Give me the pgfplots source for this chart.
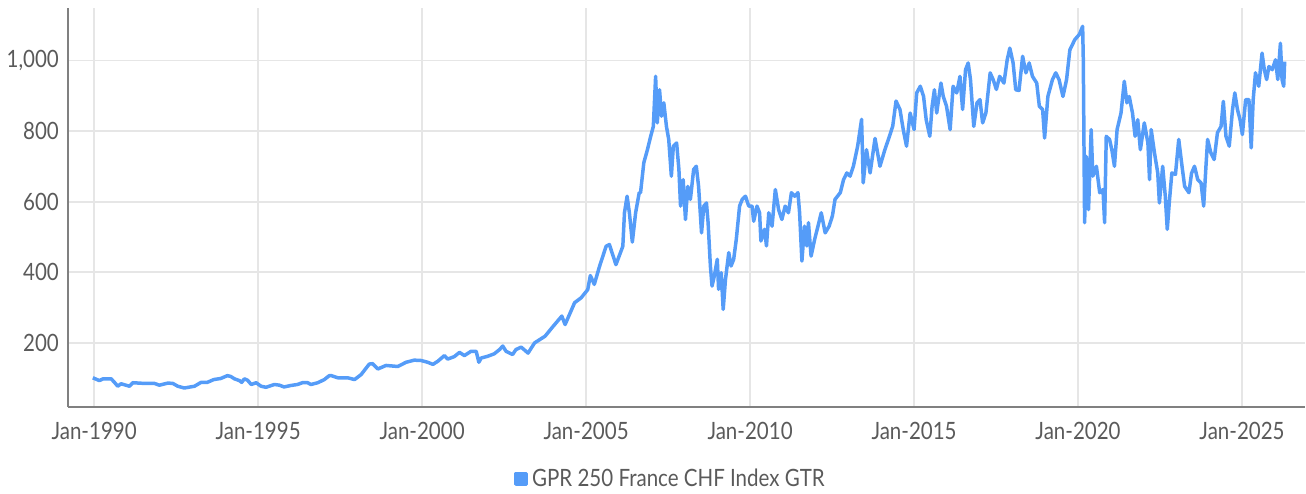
\documentclass[border=0pt]{standalone}
\usepackage{fontspec}
\setmainfont[FakeStretch=0.86]{Lato}
\usepackage{pgfplots}
\pgfplotsset{compat=1.18}
\definecolor{lineblue}{HTML}{559CF8}
\definecolor{gridgray}{HTML}{E6E6E6}
\definecolor{axisgray}{HTML}{808080}
\definecolor{textgray}{HTML}{5A5A5A}
\begin{document}
\begin{tikzpicture}
\begin{axis}[
  scale only axis,
  width=620bp, height=200bp,
  xmin=1989.2, xmax=2026.92,
  ymin=17, ymax=1149,
  axis x line=bottom, axis y line=left,
  axis line style={-, draw=axisgray, line width=1bp},
  xtick={1990,1995,2000,2005,2010,2015,2020,2025},
  xticklabels={Jan-1990,Jan-1995,Jan-2000,Jan-2005,Jan-2010,Jan-2015,Jan-2020,Jan-2025},
  ytick={200,400,600,800,1000},
  grid=major,
  major grid style={draw=gridgray, line width=1bp},
  major tick length=0pt,
  tick style={draw=none},
  /pgf/number format/assume math mode=true,
  /pgf/number format/1000 sep={,},
  ticklabel style={font=\fontsize{12}{14}\selectfont, text=textgray},
  yticklabel style={xshift=-1bp},
  xticklabel style={yshift=-4bp},
  legend style={at={(0.3605,0)}, anchor=west, yshift=-36bp, draw=none, fill=none,
    font=\fontsize{12}{14}\selectfont, text=textgray, inner sep=0pt,
    /tikz/every even column/.append style={column sep=0pt}},
  legend image code/.code={\fill[lineblue] (0bp,-2.7bp) rectangle (5.2bp,2.7bp);},
  legend cell align=left,
  clip=true,
]
\addplot[lineblue, line width=1.75bp, line join=round] table[row sep=\\] {
x y\\
1989.96 100\\ 1990.16 92\\ 1990.27 97\\ 1990.52 97\\ 1990.62 87\\ 1990.72 76\\ 1990.82 83\\
1991.08 76\\ 1991.18 86\\ 1991.53 84\\ 1991.84 84\\ 1991.99 79\\ 1992.25 85\\ 1992.40 84\\
1992.55 76\\ 1992.75 71\\ 1993.06 76\\ 1993.26 87\\ 1993.45 87\\ 1993.65 95\\ 1993.86 98\\
1994.06 106\\ 1994.16 104\\ 1994.28 97\\ 1994.43 92\\ 1994.50 87\\ 1994.58 97\\ 1994.68 93\\
1994.79 81\\ 1994.94 86\\ 1995.09 76\\ 1995.24 73\\ 1995.50 81\\ 1995.65 79\\ 1995.79 74\\
1995.99 78\\ 1996.20 81\\ 1996.35 86\\ 1996.51 86\\ 1996.61 81\\ 1996.82 86\\ 1997.02 95\\
1997.17 106\\ 1997.23 106\\ 1997.43 100\\ 1997.73 100\\ 1997.94 95\\ 1998.14 109\\ 1998.39 139\\
1998.49 140\\ 1998.65 125\\ 1998.90 135\\ 1999.26 132\\ 1999.51 144\\ 1999.76 150\\ 1999.97 149\\
2000.17 144\\ 2000.33 138\\ 2000.48 147\\ 2000.68 163\\ 2000.78 153\\ 2000.98 160\\ 2001.14 172\\
2001.29 163\\ 2001.49 175\\ 2001.65 175\\ 2001.73 144\\ 2001.80 156\\ 2002.00 161\\ 2002.20 168\\
2002.36 180\\ 2002.46 190\\ 2002.56 175\\ 2002.76 166\\ 2002.86 180\\ 2003.02 187\\ 2003.23 170\\
2003.43 199\\ 2003.75 218\\ 2003.96 242\\ 2004.26 275\\ 2004.36 251\\ 2004.65 313\\ 2004.85 327\\
2005.05 350\\ 2005.13 390\\ 2005.25 365\\ 2005.41 416\\ 2005.61 473\\ 2005.71 478\\ 2005.91 421\\
2006.12 473\\ 2006.17 568\\ 2006.25 615\\ 2006.32 568\\ 2006.41 485\\ 2006.51 568\\ 2006.62 625\\
2006.66 625\\ 2006.76 710\\ 2006.87 747\\ 2006.97 785\\ 2007.05 813\\ 2007.12 955\\ 2007.17 823\\
2007.24 917\\ 2007.30 842\\ 2007.37 880\\ 2007.45 813\\ 2007.52 776\\ 2007.60 672\\ 2007.66 757\\
2007.76 766\\ 2007.83 691\\ 2007.88 587\\ 2007.96 662\\ 2008.03 549\\ 2008.10 643\\ 2008.18 606\\
2008.28 691\\ 2008.36 700\\ 2008.43 643\\ 2008.52 511\\ 2008.59 587\\ 2008.67 596\\ 2008.72 540\\
2008.79 417\\ 2008.84 360\\ 2008.91 389\\ 2009.00 436\\ 2009.04 351\\ 2009.12 398\\ 2009.18 294\\
2009.25 379\\ 2009.35 455\\ 2009.42 417\\ 2009.50 436\\ 2009.58 493\\ 2009.68 587\\ 2009.76 606\\
2009.86 615\\ 2009.96 587\\ 2010.06 587\\ 2010.11 544\\ 2010.21 587\\ 2010.29 568\\ 2010.33 488\\
2010.44 521\\ 2010.50 474\\ 2010.57 568\\ 2010.67 530\\ 2010.77 634\\ 2010.87 577\\ 2010.97 549\\
2011.07 587\\ 2011.17 568\\ 2011.26 625\\ 2011.36 615\\ 2011.46 625\\ 2011.51 568\\ 2011.58 431\\
2011.66 530\\ 2011.73 474\\ 2011.78 540\\ 2011.86 445\\ 2011.97 493\\ 2012.07 530\\ 2012.17 568\\
2012.29 511\\ 2012.41 530\\ 2012.51 559\\ 2012.59 606\\ 2012.75 625\\ 2012.85 662\\ 2012.95 681\\
2013.05 672\\ 2013.15 700\\ 2013.28 757\\ 2013.40 833\\ 2013.45 653\\ 2013.55 747\\ 2013.66 681\\
2013.81 779\\ 2013.96 700\\ 2014.11 747\\ 2014.25 785\\ 2014.35 814\\ 2014.45 885\\ 2014.57 861\\
2014.67 804\\ 2014.77 757\\ 2014.88 851\\ 2015.00 804\\ 2015.08 908\\ 2015.19 927\\ 2015.29 898\\
2015.37 832\\ 2015.48 785\\ 2015.55 870\\ 2015.62 917\\ 2015.69 851\\ 2015.82 936\\ 2015.89 898\\
2015.99 870\\ 2016.10 804\\ 2016.19 927\\ 2016.30 908\\ 2016.40 955\\ 2016.48 861\\ 2016.57 974\\
2016.65 993\\ 2016.72 946\\ 2016.82 813\\ 2016.92 880\\ 2017.01 889\\ 2017.09 823\\ 2017.19 851\\
2017.32 965\\ 2017.41 946\\ 2017.51 918\\ 2017.61 955\\ 2017.74 936\\ 2017.84 1002\\ 2017.92 1035\\
2018.02 993\\ 2018.10 917\\ 2018.20 915\\ 2018.31 1012\\ 2018.41 965\\ 2018.51 993\\ 2018.61 955\\
2018.74 936\\ 2018.82 870\\ 2018.92 861\\ 2018.98 780\\ 2019.08 898\\ 2019.22 946\\ 2019.32 965\\
2019.42 946\\ 2019.54 898\\ 2019.65 946\\ 2019.75 1030\\ 2019.90 1059\\ 2020.04 1074\\ 2020.14 1097\\
2020.16 1002\\ 2020.20 540\\ 2020.25 728\\ 2020.32 577\\ 2020.40 804\\ 2020.45 672\\ 2020.56 700\\
2020.66 625\\ 2020.76 634\\ 2020.81 540\\ 2020.86 785\\ 2020.96 776\\ 2021.03 747\\ 2021.11 700\\
2021.19 804\\ 2021.31 851\\ 2021.41 941\\ 2021.49 880\\ 2021.56 898\\ 2021.66 851\\ 2021.74 785\\
2021.82 832\\ 2021.90 747\\ 2022.02 823\\ 2022.13 766\\ 2022.18 662\\ 2022.23 804\\ 2022.33 738\\
2022.43 681\\ 2022.48 596\\ 2022.58 700\\ 2022.66 615\\ 2022.72 521\\ 2022.79 606\\ 2022.86 681\\
2022.97 677\\ 2023.07 776\\ 2023.17 700\\ 2023.25 643\\ 2023.38 625\\ 2023.46 680\\ 2023.55 700\\
2023.65 662\\ 2023.75 653\\ 2023.83 587\\ 2023.90 700\\ 2023.95 776\\ 2024.05 738\\ 2024.15 719\\
2024.25 795\\ 2024.36 813\\ 2024.43 884\\ 2024.51 785\\ 2024.61 757\\ 2024.71 861\\ 2024.78 908\\
2024.86 861\\ 2024.94 832\\ 2025.01 790\\ 2025.11 889\\ 2025.21 889\\ 2025.28 752\\ 2025.34 889\\
2025.41 965\\ 2025.51 927\\ 2025.61 1021\\ 2025.68 974\\ 2025.75 946\\ 2025.82 983\\ 2025.92 974\\
2026.02 1002\\ 2026.09 946\\ 2026.17 1049\\ 2026.22 946\\ 2026.27 927\\ 2026.30 997\\
};
\addlegendentry{GPR 250 France CHF Index GTR}
\end{axis}
\path (rel axis cs:0,0) ++(-33bp,-42.5bp) coordinate (bl);
\path (rel axis cs:1,1) ++(0bp,4bp) coordinate (tr);
\path (bl) rectangle (tr);
\end{tikzpicture}
\end{document}
